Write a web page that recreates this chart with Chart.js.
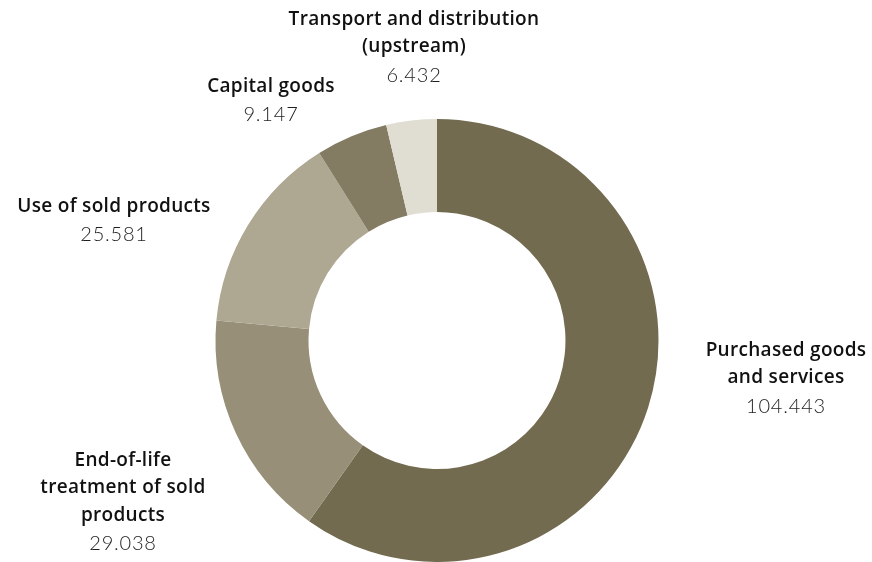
<!DOCTYPE html>
<html>

<head>
  <meta charset="utf-8">
  <title>Scope 3 emissions</title>
  <script src="https://cdn.jsdelivr.net/npm/chart.js@4/dist/chart.umd.min.js"></script>
  <style>
    html,
    body {
      margin: 0;
      padding: 0;
      background: #fff;
    }

    #wrap {
      width: 872px;
      height: 562px;
      position: relative;
    }
  </style>
</head>

<body>
  <div id="wrap"><canvas id="chart"></canvas></div>
  <script>
    var categories = [
      ['Purchased goods', 'and services'],
      ['End-of-life', 'treatment of sold', 'products'],
      ['Use of sold products'],
      ['Capital goods'],
      ['Transport and distribution', '(upstream)']
    ];
    var values = [104443, 29038, 25581, 9147, 6432];
    var colors = ['#736b50', '#978f78', '#aea792', '#837b62', '#e0ddd2'];

    // where each label block sits, relative to the ring centre (px)
    var labelPos = [
      { dx: 349, dy: 10 },
      { dx: -314, dy: 120 },
      { dx: -323, dy: -134 },
      { dx: -166, dy: -254 },
      { dx: -23, dy: -321 }
    ];

    function fmt(v) {
      return String(v).replace(/\B(?=(\d{3})+(?!\d))/g, '.');
    }

    var outsideLabels = {
      id: 'outsideLabels',
      afterDraw: function(chart) {
        var ctx = chart.ctx;
        var arc = chart.getDatasetMeta(0).data[0];
        var cx = arc.x, cy = arc.y;
        var lh = 27.5;
        ctx.save();
        ctx.textAlign = 'center';
        ctx.textBaseline = 'middle';
        chart.data.labels.forEach(function(lines, i) {
          var x = cx + labelPos[i].dx;
          var y = cy + labelPos[i].dy;
          ctx.font = '600 19px "Open Sans"';
          ctx.fillStyle = '#111';
          ctx.letterSpacing = '0.3px';
          lines.forEach(function(t, j) {
            ctx.fillText(t, x, y + j * lh);
          });
          ctx.font = '300 20px Lato';
          ctx.letterSpacing = '0.8px';
          ctx.fillStyle = '#1e1e1e';
          ctx.fillText(fmt(chart.data.datasets[0].data[i]), x, y + 1 + lines.length * lh);
        });
        ctx.restore();
      }
    };

    var ctx = document.getElementById('chart').getContext('2d');
    window.chart = new Chart(ctx, {
      type: 'doughnut',
      data: {
        labels: categories,
        datasets: [{
          data: values,
          backgroundColor: colors,
          borderWidth: 0
        }]
      },
      options: {
        responsive: true,
        maintainAspectRatio: false,
        animation: false,
        cutout: '58%',
        layout: {
          padding: { left: 215, right: 213, top: 119, bottom: 0 }
        },
        plugins: {
          legend: { display: false },
          tooltip: { enabled: false }
        }
      },
      plugins: [outsideLabels]
    });
  </script>
</body>

</html>
